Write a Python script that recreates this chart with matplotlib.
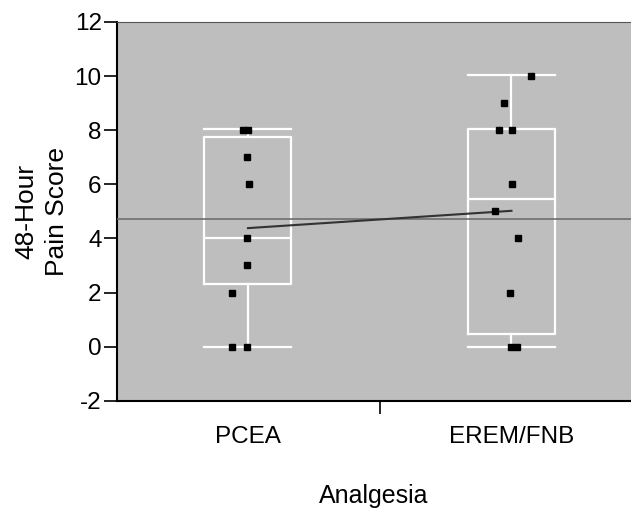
import numpy as np
import matplotlib
matplotlib.use("Agg")
import matplotlib.pyplot as plt

plt.rcParams['font.family'] = ['Liberation Sans', 'DejaVu Sans']
plt.rcParams['axes.unicode_minus'] = False

# data
groups = ['PCEA', 'EREM/FNB']
pcea_scores = [8, 8, 7, 6, 4, 3, 2, 0, 0]
erem_scores = [10, 9, 8, 8, 6, 5, 4, 2, 0, 0]
# box stats: whisker low, q1, median, q3, whisker high
pcea_box = [0, 2.31, 4.01, 7.74, 8.05]
erem_box = [0, 0.48, 5.47, 8.05, 10.03]
group_means = [4.38, 5.02]
grand_mean = 4.70

# horizontal jitter of the points (category units)
pcea_jit = [-0.020, 0.0, -0.004, 0.004, -0.004, -0.004, -0.061, -0.061, -0.004]
erem_jit = [0.074, -0.030, -0.046, 0.002, 0.002, -0.061, 0.026, -0.006, -0.002, 0.020]

fig = plt.figure(figsize=(6.31, 5.09), dpi=100)
W, H = 631, 509
ax = fig.add_axes([117 / W, 1 - 400.7 / H, 1 - 117 / W, (400.7 - 22) / H])
ax.set_facecolor('#bebebe')

stats = []
for name, b in zip(groups, [pcea_box, erem_box]):
    stats.append(dict(label=name, whislo=b[0], q1=b[1], med=b[2], q3=b[3], whishi=b[4], fliers=[]))
wprops = dict(color='white', linewidth=1.6)
ax.bxp(stats, positions=[1, 2], widths=0.33, showfliers=False,
       boxprops=wprops, whiskerprops=wprops, capprops=wprops, medianprops=wprops,
       capwidths=0.33, manage_ticks=False)

ax.axhline(grand_mean, color='#6e6e6e', linewidth=1.2, zorder=3)
ax.plot([1, 2], group_means, color='#333333', linewidth=1.5, zorder=4)

for pos, vals, jit in [(1, pcea_scores, pcea_jit), (2, erem_scores, erem_jit)]:
    xs = pos + np.array(jit)
    ax.plot(xs, vals, 's', color='black', markersize=4.2, linestyle='none', zorder=5)

ax.set_xlim(0.503, 2.4535)
ax.set_ylim(-2, 12)
ax.set_yticks(np.arange(-2, 13, 2))
ax.tick_params(axis='y', labelsize=17.5, length=9.5, width=1.2, pad=1.5)
ax.set_xticks([1, 2])
ax.set_xticklabels(groups)
ax.tick_params(axis='x', which='major', length=0, labelsize=17.5, pad=18)
ax.set_xticks([1.5], minor=True)
ax.tick_params(axis='x', which='minor', length=9, width=1.2, direction='out')

ax.spines['right'].set_visible(False)
ax.spines['top'].set_color('#555555')
ax.spines['left'].set_linewidth(1.5)
ax.spines['bottom'].set_linewidth(1.5)

ax.set_ylabel('48-Hour\nPain Score', fontsize=19, linespacing=1.35)
ax.yaxis.set_label_coords((69 - 117) / 514, 0.5)

fig.text(374 / W, 1 - 503 / H, 'Analgesia', fontsize=18, ha='center', va='baseline')

fig.savefig('out.png', dpi=100)
